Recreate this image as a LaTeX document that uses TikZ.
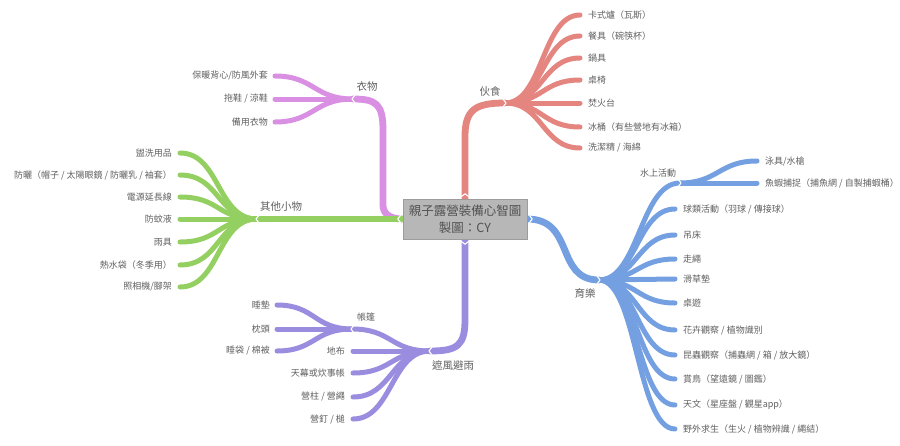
\documentclass[tikz,border=0pt]{standalone}
\usepackage{fontspec}
\setmainfont{Noto Sans CJK TC}
\usetikzlibrary{calc}
\definecolor{cred}{HTML}{E4857F}
\definecolor{cpur}{HTML}{D98FE2}
\definecolor{cgrn}{HTML}{94CF62}
\definecolor{cvio}{HTML}{9A8DE0}
\definecolor{cblu}{HTML}{74A0E2}
\definecolor{ctxt}{HTML}{606060}
\definecolor{boxgray}{HTML}{B7B7B7}
\begin{document}
\begin{tikzpicture}[x=1pt,y=-1pt,
  trunk/.style={line width=6.8pt,line cap=round},
  twig/.style={line width=5pt,line cap=round},
  fanR/.style={out=0,in=180,distance=#1},
  fanL/.style={out=180,in=0,distance=#1},
  leafR/.style={anchor=west,font=\fontsize{9}{11}\selectfont,text=ctxt,inner sep=0pt},
  leafL/.style={anchor=east,font=\fontsize{9}{11}\selectfont,text=ctxt,inner sep=0pt},
  mainlbl/.style={font=\fontsize{10.5}{12}\selectfont,text=ctxt,inner sep=0pt},
  sublbl/.style={font=\fontsize{9}{11}\selectfont,text=ctxt,inner sep=0pt},
  notch/.style={white,line width=1.1pt,line cap=round,line join=round}
]
\useasboundingbox (0,0) rectangle (900,445);
\fill[white] (0,0) rectangle (900,445);

% junction coordinates
\coordinate (rJ) at (505,103);
\coordinate (pJ) at (353,99);
\coordinate (gJ) at (257,219);
\coordinate (vJ) at (430,351);
\coordinate (vJ2) at (352,329);
\coordinate (bJ) at (599,280);
\coordinate (bJ2) at (680,183);

% center node (placed first for anchors; redrawn on top later)
\node[minimum width=124pt,minimum height=40pt,inner sep=0pt] (center) at (465,219) {};

% ---------- main trunks ----------
\draw[trunk,cred] (center.north) -- ++(0,-62) .. controls +(0,-27) and +(-30,0) .. (rJ);
\draw[trunk,cpur] (center.west) .. controls +(-14,0) and +(0,8) .. (383,205) -- (383,130) .. controls (383,104) and (376,99) .. (pJ);
\draw[trunk,cgrn] (center.west) -- (gJ);
\draw[trunk,cvio] (center.south) -- ++(0,80) .. controls +(0,26) and +(28,0) .. (vJ);
\draw[trunk,cblu] (center.east) .. controls +(48,0) and +(-44,0) .. (bJ);

% ---------- red: 伙食 ----------
\foreach \y/\t [count=\i] in {15/{卡式爐（瓦斯）},36/{餐具（碗筷杯）},58/{鍋具},80/{桌椅},103/{焚火台},127/{冰桶（有些營地有冰箱）},148/{洗潔精 / 海綿}}{
  \coordinate (r\i) at (580,\y);
  \draw[twig,cred] (rJ) to[fanR=38pt] (r\i);
  \node[leafR] (rt\i) at (588,\y) {\t};
}
\node[mainlbl] (rL) at (490,91) {伙食};

% ---------- purple: 衣物 ----------
\foreach \y/\t [count=\i] in {76/{保暖背心/防風外套},99/{拖鞋 / 涼鞋},122/{備用衣物}}{
  \coordinate (p\i) at (275,\y);
  \draw[twig,cpur] (pJ) to[fanL=39pt] (p\i);
  \node[leafL] (pt\i) at (268,\y) {\t};
}
\node[mainlbl] (pL) at (367,86) {衣物};

% ---------- green: 其他小物 ----------
\foreach \y/\t [count=\i] in {153/{盥洗用品},175/{防曬（帽子 / 太陽眼鏡 / 防曬乳 / 袖套）},197/{電源延長線},219/{防蚊液},242/{雨具},265/{熱水袋（冬季用）},287/{照相機/腳架}}{
  \coordinate (g\i) at (180,\y);
  \draw[twig,cgrn] (gJ) to[fanL=40pt] (g\i);
  \node[leafL] (gt\i) at (172,\y) {\t};
}
\node[mainlbl] (gL) at (281,207) {其他小物};

% ---------- violet: 遮風避雨 ----------
\draw[twig,cvio] (vJ) to[fanL=40pt] (vJ2);
\foreach \y/\t [count=\i] in {305/{睡墊},329/{枕頭},351/{睡袋 / 棉被}}{
  \coordinate (vt\i) at (277,\y);
  \draw[twig,cvio] (vJ2) to[fanL=38pt] (vt\i);
  \node[leafL] (vtt\i) at (270,\y) {\t};
}
\foreach \y/\t [count=\i] in {351/{地布},373/{天幕或炊事帳},397/{營柱 / 營繩},419/{營釘 / 槌}}{
  \coordinate (v\i) at (353,\y);
  \draw[twig,cvio] (vJ) to[fanL=39pt] (v\i);
  \node[leafL] (vx\i) at (345,\y) {\t};
}
\node[sublbl] (vL2) at (366,317) {帳篷};
\node[mainlbl] (vL) at (453,366) {遮風避雨};

% ---------- blue: 育樂 ----------
\draw[twig,cblu] (bJ) to[fanR=40pt] (bJ2);
\foreach \y/\t [count=\i] in {161/{泳具/水槍},183/{魚蝦捕捉（捕魚網 / 自製捕蝦桶）}}{
  \coordinate (bw\i) at (757,\y);
  \draw[twig,cblu] (bJ2) to[fanR=38pt] (bw\i);
  \node[leafR] (bwt\i) at (765,\y) {\t};
}
\foreach \y/\t [count=\i] in {209/{球類活動（羽球 / 傳接球）},235/{吊床},259/{走繩},279/{滑草墊},303/{桌遊},330/{花卉觀察 / 植物識別},355/{昆蟲觀察（捕蟲網 / 箱 / 放大鏡）},379/{賞鳥（望遠鏡 / 圖鑑）},405/{天文（星座盤 / 觀星app）},429/{野外求生（生火 / 植物辨識 / 繩結）}}{
  \coordinate (b\i) at (675,\y);
  \draw[twig,cblu] (bJ) to[fanR=38pt] (b\i);
  \node[leafR] (bt\i) at (683,\y) {\t};
}
\node[sublbl] (bL2) at (658,173) {水上活動};
\node[mainlbl] (bL) at (585,293) {育樂};

% ---------- junction notches ----------
\foreach \c in {rJ,bJ,bJ2}{
  \draw[notch] ($(\c)+(-2,-4)$) -- ($(\c)+(1,0)$) -- ($(\c)+(-2,4)$);
}
\foreach \c in {pJ,gJ,vJ,vJ2}{
  \draw[notch] ($(\c)+(2,-4)$) -- ($(\c)+(-1,0)$) -- ($(\c)+(2,4)$);
}

% ---------- center box ----------
\node[fill=boxgray,draw=boxgray!85!black,line width=0.4pt,minimum width=124pt,minimum height=40pt,inner sep=0pt,align=center,
  font=\fontsize{12.5}{17.5}\selectfont,text=ctxt!85!black] (centerbox) at (center) {親子露營裝備心智圖\\製圖：CY};
\draw[notch] ($(center.north)+(-4,-2)$) -- ($(center.north)+(0,-5)$) -- ($(center.north)+(4,-2)$);
\draw[notch] ($(center.south)+(-4,2)$) -- ($(center.south)+(0,5)$) -- ($(center.south)+(4,2)$);
\draw[notch] ($(center.west)+(-2,-4)$) -- ($(center.west)+(-5,0)$) -- ($(center.west)+(-2,4)$);
\draw[notch] ($(center.east)+(2,-4)$) -- ($(center.east)+(5,0)$) -- ($(center.east)+(2,4)$);
\end{tikzpicture}
\end{document}
